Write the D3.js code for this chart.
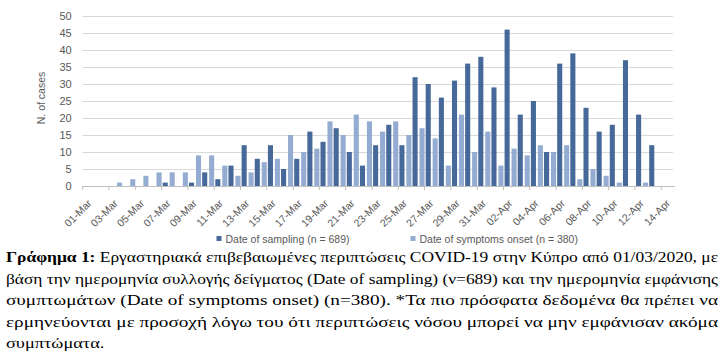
<!DOCTYPE html>
<html lang="el">
<head>
<meta charset="UTF-8">
<title>COVID-19 Cyprus</title>
<style>
  body { margin: 0; padding: 0; background: #fff; }
  svg { display: block; }
  .tick text { fill: #595959; }
</style>
</head>
<body>
<div id="chart"></div>
<script src="https://cdn.jsdelivr.net/npm/d3@7"></script>
<script>
// data: one value per day, 01-Mar .. 14-Apr
const days = [
  '01-Mar','02-Mar','03-Mar','04-Mar','05-Mar','06-Mar','07-Mar','08-Mar','09-Mar','10-Mar',
  '11-Mar','12-Mar','13-Mar','14-Mar','15-Mar','16-Mar','17-Mar','18-Mar','19-Mar','20-Mar',
  '21-Mar','22-Mar','23-Mar','24-Mar','25-Mar','26-Mar','27-Mar','28-Mar','29-Mar','30-Mar',
  '31-Mar','01-Apr','02-Apr','03-Apr','04-Apr','05-Apr','06-Apr','07-Apr','08-Apr','09-Apr',
  '10-Apr','11-Apr','12-Apr','13-Apr','14-Apr'
];
const sampling = [
  0,0,0,0,0,0,1,0,1,4,
  2,6,12,8,12,5,8,16,13,17,
  10,6,12,18,12,32,30,26,31,36,
  38,29,46,21,25,10,36,39,23,16,
  18,37,21,12,0
];
const symptoms = [
  0,0,1,2,3,4,4,4,9,9,
  6,3,4,7,8,15,10,11,19,15,
  21,19,16,19,15,17,14,6,21,10,
  16,6,11,9,12,10,12,2,5,3,
  1,0,1,0,0
];
const yTicks = [0,5,10,15,20,25,30,35,40,45,50];
const seriesNames = ['Date of sampling (n = 689)', 'Date of symptoms onset (n = 380)'];
const colors = ['#46699a', '#94acd2'];

const captionLines = [
  ['Γράφημα 1:', ' Εργαστηριακά επιβεβαιωμένες περιπτώσεις COVID-19 στην Κύπρο από 01/03/2020, με'],
  ['', 'βάση την ημερομηνία συλλογής δείγματος (Date of sampling) (ν=689) και την ημερομηνία εμφάνισης'],
  ['', 'συμπτωμάτων (Date of symptoms onset) (n=380). *Τα πιο πρόσφατα δεδομένα θα πρέπει να'],
  ['', 'ερμηνεύονται με προσοχή λόγω του ότι περιπτώσεις νόσου μπορεί να μην εμφάνισαν ακόμα'],
  ['', 'συμπτώματα.']
];

const W = 726, H = 352;
const plotLeft = 82.7, plotRight = 674.4, plotTop = 16, plotBottom = 186;

const svg = d3.select('#chart').append('svg')
  .attr('width', W).attr('height', H)
  .style('font-family', '"Liberation Sans", Arial, sans-serif');

svg.append('rect').attr('width', W).attr('height', H).attr('fill', '#fff');

const x = d3.scaleBand().domain(days).range([plotLeft, plotRight]).padding(0);
const y = d3.scaleLinear().domain([0, 50]).range([plotBottom, plotTop]);
const inner = d3.scaleBand().domain([0, 1]).range([0, x.bandwidth()])
  .paddingInner(0.27).paddingOuter(0.08).align(1);

// y axis + gridlines
const yAxis = svg.append('g')
  .attr('transform', `translate(${plotLeft},0)`)
  .call(d3.axisLeft(y).tickValues(yTicks).tickSize(-(plotRight - plotLeft - 1.5)).tickPadding(11));
yAxis.select('.domain').remove();
yAxis.selectAll('.tick line').attr('stroke', '#d9d9d9').attr('stroke-width', 1);
yAxis.selectAll('.tick text').attr('font-size', '11px');

svg.append('text')
  .attr('transform', 'translate(45,98) rotate(-90)')
  .attr('text-anchor', 'middle')
  .attr('font-size', '10.5px')
  .attr('fill', '#595959')
  .text('N. of cases');

// bars
const rows = days.map((d, i) => ({ day: d, vals: [sampling[i], symptoms[i]] }));
const groups = svg.append('g').selectAll('g')
  .data(rows).join('g')
  .attr('transform', d => `translate(${x(d.day)},0)`);
groups.selectAll('rect')
  .data(d => d.vals.map((v, k) => ({ k, v })))
  .join('rect')
  .attr('x', d => inner(d.k))
  .attr('width', inner.bandwidth())
  .attr('y', d => y(d.v))
  .attr('height', d => y(0) - y(d.v))
  .attr('fill', d => colors[d.k]);

// x axis
const labelDays = days.filter((d, i) => i % 2 === 0);
const xAxis = svg.append('g')
  .attr('transform', `translate(0,${plotBottom})`)
  .call(d3.axisBottom(x).tickValues(labelDays).tickSize(4).tickSizeOuter(0));
xAxis.select('.domain').attr('stroke', '#bfbfbf');
xAxis.selectAll('.tick line')
  .attr('stroke', '#bfbfbf')
  .attr('x1', -x.bandwidth() / 2).attr('x2', -x.bandwidth() / 2);
xAxis.selectAll('.tick text')
  .attr('font-size', '10.5px')
  .attr('text-anchor', 'end')
  .attr('dy', 0)
  .attr('transform', 'translate(3,18) rotate(-45)')
  .attr('y', 0);

// legend
const legend = svg.append('g').attr('font-size', '10.5px');
const legendX = [216.5, 410.5];
seriesNames.forEach((name, k) => {
  legend.append('rect')
    .attr('x', legendX[k]).attr('y', 236)
    .attr('width', 5).attr('height', 5)
    .attr('fill', colors[k]);
  legend.append('text')
    .attr('x', legendX[k] + 9).attr('y', 243)
    .attr('fill', '#595959')
    .text(name);
});

// caption, justified line by line (glyphs stretched a little, the source font is wider)
const cap = svg.append('g')
  .attr('font-family', '"Liberation Serif", "Times New Roman", serif')
  .attr('font-size', '15.5px')
  .attr('fill', '#000');
const baselines = [262, 283.5, 305, 326.5, 348];
const lineWidth = 712;
const texts = captionLines.map((parts, i) => {
  const t = cap.append('text').attr('x', 6).attr('y', baselines[i]);
  if (parts[0]) t.append('tspan').attr('font-weight', 'bold').text(parts[0]);
  t.append('tspan').text(parts[1]);
  return t;
});
const natural = texts.map(t => t.node().getComputedTextLength());
const full = natural.slice(0, -1);
const stretch = d3.mean(full.map(w => lineWidth / w));
texts.forEach((t, i) => {
  const len = i < texts.length - 1 ? lineWidth : natural[i] * stretch;
  t.attr('textLength', len).attr('lengthAdjust', 'spacingAndGlyphs');
});
</script>
</body>
</html>
